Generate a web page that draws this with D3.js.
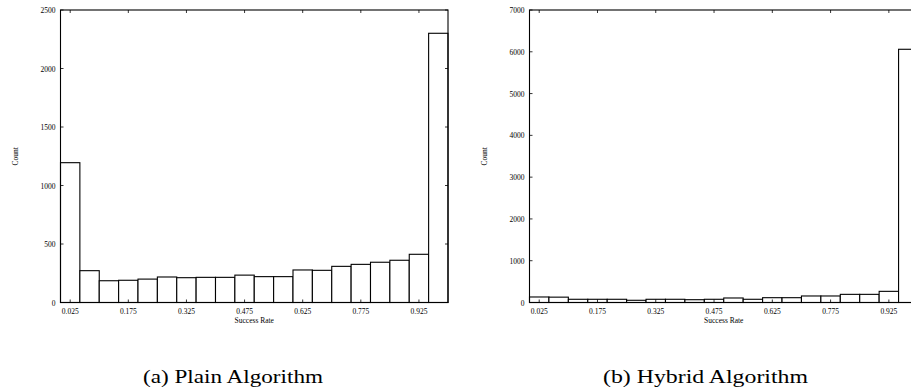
<!DOCTYPE html>
<html>
<head>
<meta charset="utf-8">
<script src="https://cdn.jsdelivr.net/npm/d3@7"></script>
<style>
  body { margin: 0; background: #fff; }
  svg { display: block; }
  .tick-label { font-family: "Liberation Serif", "DejaVu Serif", serif; font-size: 7.5px; fill: #000; }
  .caption { font-family: "Liberation Serif", "DejaVu Serif", serif; font-size: 19px; fill: #000; }
</style>
</head>
<body>
<svg id="chart" width="911" height="391"></svg>
<script>
// histogram bins (left edge of each 0.05-wide bin)
var binStarts = [0.00, 0.05, 0.10, 0.15, 0.20, 0.25, 0.30, 0.35, 0.40, 0.45,
                 0.50, 0.55, 0.60, 0.65, 0.70, 0.75, 0.80, 0.85, 0.90, 0.95];
var binWidth = 0.05;

var plainCounts = [1195, 272, 186, 190, 200, 218, 212, 215, 215, 234,
                   221, 221, 278, 275, 309, 326, 344, 361, 412, 2301];
var hybridCounts = [132, 128, 77, 77, 77, 53, 77, 77, 67, 77,
                    108, 77, 115, 115, 156, 156, 195, 195, 267, 6060];

var xTicks = [0.025, 0.175, 0.325, 0.475, 0.625, 0.775, 0.925];
var plainYTicks = [0, 500, 1000, 1500, 2000, 2500];
var hybridYTicks = [0, 1000, 2000, 3000, 4000, 5000, 6000, 7000];

var svg = d3.select("#chart");

var drawPanel = function (opts) {
  var x = d3.scaleLinear().domain([0, 1]).range([opts.left, opts.right]);
  var y = d3.scaleLinear().domain([0, opts.yMax]).range([opts.bottom, opts.top]);
  var g = svg.append("g");
  var tickLen = 3;

  // bars
  g.selectAll("rect.bar")
    .data(opts.counts)
    .enter().append("rect")
      .attr("class", "bar")
      .attr("x", function (d, i) { return x(binStarts[i]); })
      .attr("y", function (d) { return y(d); })
      .attr("width", function (d, i) { return x(binStarts[i] + binWidth) - x(binStarts[i]); })
      .attr("height", function (d) { return y(0) - y(d); })
      .attr("fill", "#fff")
      .attr("stroke", "#000")
      .attr("stroke-width", 1.1);

  // frame
  g.append("rect")
    .attr("x", opts.left).attr("y", opts.top)
    .attr("width", opts.right - opts.left).attr("height", opts.bottom - opts.top)
    .attr("fill", "none").attr("stroke", "#000").attr("stroke-width", 1.1);

  // x ticks, inward on bottom and top (gnuplot mirror)
  xTicks.forEach(function (t) {
    g.append("line").attr("x1", x(t)).attr("x2", x(t))
      .attr("y1", opts.bottom).attr("y2", opts.bottom - tickLen)
      .attr("stroke", "#000").attr("stroke-width", 0.8);
    g.append("line").attr("x1", x(t)).attr("x2", x(t))
      .attr("y1", opts.top).attr("y2", opts.top + tickLen)
      .attr("stroke", "#000").attr("stroke-width", 0.8);
    g.append("text").attr("class", "tick-label")
      .attr("x", x(t)).attr("y", opts.bottom + 11)
      .attr("text-anchor", "middle")
      .text(d3.format(".3f")(t));
  });

  // y ticks, inward on left and right
  opts.yTicks.forEach(function (t) {
    g.append("line").attr("x1", opts.left).attr("x2", opts.left + tickLen)
      .attr("y1", y(t)).attr("y2", y(t))
      .attr("stroke", "#000").attr("stroke-width", 0.8);
    g.append("line").attr("x1", opts.right).attr("x2", opts.right - tickLen)
      .attr("y1", y(t)).attr("y2", y(t))
      .attr("stroke", "#000").attr("stroke-width", 0.8);
    g.append("text").attr("class", "tick-label")
      .attr("x", opts.left - 5).attr("y", y(t) + 3)
      .attr("text-anchor", "end")
      .text(t);
  });

  g.append("text").attr("class", "tick-label")
    .attr("x", (x(0) + x(1)) / 2).attr("y", opts.bottom + 20.5)
    .attr("text-anchor", "middle")
    .text("Success Rate");

  g.append("text").attr("class", "tick-label")
    .attr("transform", "translate(" + (opts.left - 43) + "," + ((opts.top + opts.bottom) / 2) + ") rotate(-90)")
    .attr("text-anchor", "middle")
    .text("Count");

  g.append("text").attr("class", "caption")
    .attr("x", opts.captionX).attr("y", 383)
    .attr("text-anchor", "middle")
    .attr("textLength", opts.captionWidth)
    .attr("lengthAdjust", "spacingAndGlyphs")
    .text(opts.caption);
};

drawPanel({
  counts: plainCounts, yMax: 2500, yTicks: plainYTicks,
  left: 60.5, right: 448, top: 10, bottom: 302.5,
  caption: "(a) Plain Algorithm", captionX: 233, captionWidth: 180
});

drawPanel({
  counts: hybridCounts, yMax: 7000, yTicks: hybridYTicks,
  left: 529.5, right: 918, top: 10, bottom: 302.5,
  caption: "(b) Hybrid Algorithm", captionX: 705.5, captionWidth: 205
});
</script>
</body>
</html>
